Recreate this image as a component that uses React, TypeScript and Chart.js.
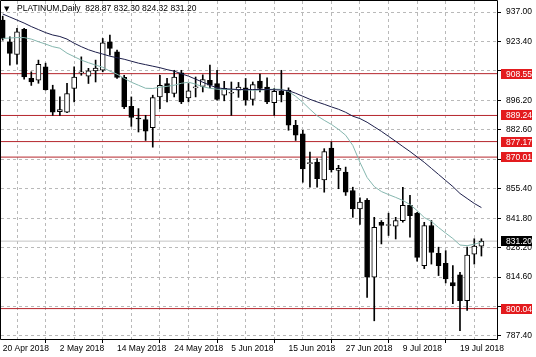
import React, { useEffect, useRef } from 'react';
import { Chart, registerables } from 'chart.js';

Chart.register(...registerables);

// ---- data ----
const tickLabels = ['20 Apr 2018', '2 May 2018', '14 May 2018', '24 May 2018', '5 Jun 2018', '15 Jun 2018', '27 Jun 2018', '9 Jul 2018', '19 Jul 2018'];

const opens = [933.3, 923.3, 917.4, 929.0, 906.4, 905.5, 911.7, 901.2, 891.0, 890.8,
  901.7, 908.9, 907.4, 909.8, 910.1, 923.3, 918.6, 906.8, 893.5, 888.0,
  887.3, 883.6, 897.8, 904.0, 899.4, 908.9, 897.3, 902.0, 902.7, 905.5,
  904.0, 898.6, 899.5, 900.9, 902.0, 896.6, 905.1, 902.4, 895.2, 900.5,
  900.9, 884.7, 880.8, 867.0, 867.7, 859.5, 874.2, 863.8, 863.1, 854.6,
  846.1, 850.0, 814.5, 839.9, 838.4, 838.1, 840.7, 847.7, 844.1, 819.9,
  838.4, 825.6, 821.0, 812.0, 815.6, 803.7, 825.2, 828.87];
const highs = [935.1, 925.6, 929.5, 929.5, 909.4, 914.8, 913.4, 903.2, 897.8, 904.1,
  911.7, 916.3, 911.0, 914.8, 924.8, 926.4, 919.4, 907.8, 897.8, 892.4,
  889.3, 898.6, 907.8, 906.4, 910.1, 910.1, 904.0, 907.0, 908.0, 912.5,
  910.1, 905.0, 904.7, 904.5, 906.3, 904.7, 908.3, 906.6, 901.7, 910.1,
  902.0, 887.0, 882.4, 872.3, 869.3, 873.9, 877.0, 866.2, 865.4, 856.1,
  851.2, 850.8, 842.2, 840.7, 844.1, 842.2, 856.1, 852.3, 844.5, 839.9,
  840.7, 828.4, 826.8, 819.9, 816.8, 828.4, 832.3, 832.30];
const lows = [924.0, 912.5, 912.9, 906.0, 903.1, 904.1, 900.9, 889.3, 889.3, 890.5,
  895.5, 907.8, 904.0, 904.7, 909.4, 917.1, 906.4, 892.4, 884.2, 881.6,
  877.7, 874.6, 892.4, 895.5, 897.8, 894.7, 895.5, 897.8, 900.1, 902.0,
  896.3, 896.0, 889.3, 897.6, 894.0, 894.0, 900.1, 894.7, 889.3, 895.5,
  882.4, 877.7, 858.4, 856.1, 856.1, 853.8, 863.1, 855.4, 852.3, 842.2,
  838.9, 805.2, 794.4, 829.9, 833.8, 832.2, 839.9, 833.0, 822.0, 818.5,
  820.6, 815.3, 811.9, 802.3, 789.8, 799.2, 820.6, 824.32];
const closes = [924.8, 917.9, 927.9, 907.0, 904.7, 912.8, 901.2, 890.8, 892.0, 899.4,
  907.0, 909.2, 909.8, 911.1, 922.8, 920.2, 906.8, 893.2, 888.3, 887.6,
  882.0, 897.5, 903.2, 899.6, 907.0, 895.5, 900.6, 902.2, 905.8, 903.2,
  896.6, 901.8, 899.8, 902.4, 896.3, 903.5, 901.7, 895.5, 900.4, 898.8,
  884.7, 880.1, 864.6, 867.2, 860.0, 872.6, 864.2, 864.8, 853.8, 846.1,
  849.2, 814.5, 837.6, 838.4, 838.6, 840.7, 847.7, 843.0, 823.7, 838.4,
  826.0, 819.9, 813.7, 810.5, 803.7, 824.8, 828.9, 831.20];

const maSlow = [936.1, 934.7, 933.3, 931.9, 930.3, 928.9, 927.5, 926.4, 925.7, 924.5,
  922.6, 921.0, 919.6, 918.5, 917.6, 916.6, 915.9, 915.2, 914.3, 913.4,
  912.7, 912.0, 911.3, 910.4, 909.7, 908.5, 907.4, 906.0, 904.6, 903.2,
  902.0, 901.6, 901.4, 901.2, 901.2, 901.2, 901.2, 901.2, 901.1, 901.0,
  900.7, 899.5, 898.1, 896.7, 895.5, 894.4, 893.2, 892.1, 890.7, 888.9,
  887.8, 886.1, 884.0, 881.9, 879.6, 877.3, 874.9, 872.6, 870.1, 867.6,
  864.8, 862.0, 859.2, 856.4, 853.2, 850.9, 848.6, 846.7];
const maFast = [924.8, 925.0, 925.2, 925.2, 924.5, 923.3, 922.2, 921.0, 920.3, 918.0,
  916.4, 914.8, 913.6, 912.5, 911.5, 909.7, 908.3, 906.4, 904.6, 903.2,
  901.8, 901.7, 902.3, 902.7, 903.2, 904.1, 904.6, 903.7, 902.5, 901.8,
  901.4, 901.2, 901.2, 901.2, 901.1, 900.9, 901.0, 901.2, 901.4, 901.3,
  900.3, 898.1, 895.3, 892.1, 889.1, 887.0, 885.1, 882.8, 880.1, 875.4,
  867.6, 860.6, 856.4, 854.1, 852.7, 851.4, 850.0, 848.1, 845.3, 842.1,
  840.3, 837.5, 834.9, 832.4, 829.4, 829.1, 829.8, 830.7];

const levels = [908.55, 889.24, 877.17, 870.01, 800.04];
const lastPrice = 831.2;
const yTicks = [937.0, 923.4, 909.8, 896.2, 882.6, 869.0, 855.4, 841.8, 828.2, 814.6, 801.0, 787.4];
const xTicks = [0, 4, 8, 12, 16, 20, 24, 28, 32, 36, 40, 44, 48, 52, 56, 60, 64, 68];
const symbolText = 'PLATINUM,Daily  828.87 832.30 824.32 831.20';

const X_MIN = -0.24;
const X_MAX = 69.18;
const Y_MIN = 786.0;
const Y_MAX = 942.1;

const FONT = "'Liberation Sans', Arial, sans-serif";
const FONT_SIZE = 8.5;

const overlayPlugin = {
  id: 'mtOverlay',
  afterDraw(chart: any) {
    const { ctx, chartArea } = chart;
    const yScale = chart.scales.y;
    ctx.save();
    // frame
    ctx.strokeStyle = '#000';
    ctx.lineWidth = 1;
    ctx.beginPath();
    ctx.moveTo(chartArea.left - 0.5, chartArea.top - 0.5);
    ctx.lineTo(chartArea.right + 0.5, chartArea.top - 0.5);
    ctx.lineTo(chartArea.right + 0.5, chartArea.bottom + 0.5);
    ctx.lineTo(chartArea.left - 0.5, chartArea.bottom + 0.5);
    ctx.closePath();
    ctx.stroke();

    ctx.font = `${FONT_SIZE}px ${FONT}`;
    ctx.textBaseline = 'middle';
    ctx.textAlign = 'left';
    const boxX = chartArea.right + 4;
    const boxW = 31;
    const boxH = 10;
    // level labels
    levels.forEach((lv) => {
      const py = Math.round(yScale.getPixelForValue(lv));
      ctx.fillStyle = '#e31b1e';
      ctx.fillRect(boxX, py - boxH / 2, boxW, boxH);
      ctx.fillStyle = '#fff';
      ctx.fillText(lv.toFixed(2), boxX + 5, py + 0.5);
    });
    // last price label
    const lp = Math.round(yScale.getPixelForValue(lastPrice));
    ctx.fillStyle = '#000';
    ctx.fillRect(boxX, lp - boxH / 2, boxW, boxH);
    ctx.fillStyle = '#fff';
    ctx.fillText(lastPrice.toFixed(2), boxX + 5, lp + 0.5);

    // symbol text
    ctx.fillStyle = '#000';
    ctx.font = `7px 'DejaVu Sans', sans-serif`;
    ctx.fillText('\u25BC', 4, 9);
    ctx.font = `${FONT_SIZE}px ${FONT}`;
    ctx.fillText(symbolText, 17, 9);
    ctx.restore();
  },
};

export default function App() {
  const canvasRef = useRef<HTMLCanvasElement | null>(null);

  useEffect(() => {
    const canvas = canvasRef.current;
    if (!canvas) return;
    const idx = opens.map((_, i) => i);
    const levelDatasets = levels.map((lv) => ({
      type: 'line' as const,
      data: [{ x: X_MIN, y: lv }, { x: X_MAX, y: lv }],
      borderColor: '#b5252c',
      borderWidth: 1,
      pointRadius: 0,
      order: 5,
    }));
    const chart = new Chart(canvas, {
      type: 'bar',
      data: {
        datasets: [
          {
            type: 'line',
            data: idx.map((i) => ({ x: i, y: maSlow[i] })),
            borderColor: '#1c1e4a',
            borderWidth: 1,
            pointRadius: 0,
            order: 0,
          },
          {
            type: 'line',
            data: idx.map((i) => ({ x: i, y: maFast[i] })),
            borderColor: '#84b6ae',
            borderWidth: 1,
            pointRadius: 0,
            order: 0,
          },
          {
            type: 'bar',
            data: idx.map((i) => ({ x: i, y: [opens[i], closes[i]] })),
            backgroundColor: idx.map((i) => (closes[i] >= opens[i] ? '#ffffff' : '#000000')),
            borderColor: '#000',
            borderWidth: 1,
            borderSkipped: false,
            barThickness: 5,
            minBarLength: 1,
            grouped: false,
            order: 1,
          } as any,
          {
            type: 'bar',
            data: idx.map((i) => ({ x: i, y: [lows[i], highs[i]] })),
            backgroundColor: '#000',
            barThickness: 1,
            grouped: false,
            order: 2,
          } as any,
          ...levelDatasets,
          {
            type: 'line',
            data: [{ x: X_MIN, y: lastPrice }, { x: X_MAX, y: lastPrice }],
            borderColor: '#c4c4c4',
            borderWidth: 1,
            pointRadius: 0,
            order: 6,
          },
        ] as any,
      },
      options: {
        animation: false,
        responsive: false,
        devicePixelRatio: 1,
        layout: { padding: { left: 1, top: 1, right: 0, bottom: 0 } },
        plugins: { legend: { display: false }, tooltip: { enabled: false } },
        scales: {
          x: {
            type: 'linear',
            position: 'bottom',
            min: X_MIN,
            max: X_MAX,
            offset: false,
            afterBuildTicks: (s: any) => {
              s.ticks = xTicks.map((v) => ({ value: v }));
            },
            afterFit: (s: any) => {
              s.height = 18;
              s.paddingLeft = 0;
              s.paddingRight = 0;
            },
            ticks: {
              autoSkip: false,
              maxRotation: 0,
              align: 'start',
              padding: 1,
              color: '#000',
              font: { family: FONT, size: FONT_SIZE },
              callback: (v: any) => (Number(v) % 8 === 0 ? tickLabels[Number(v) / 8] ?? '' : ''),
            },
            grid: {
              color: '#b9b9b9',
              tickLength: 4,
              tickColor: (c: any) => (c.tick && c.tick.value % 8 === 0 ? '#000' : 'rgba(0,0,0,0)'),
              tickBorderDash: [],
            },
            border: { display: false, dash: [3, 3] },
          },
          y: {
            type: 'linear',
            position: 'right',
            min: Y_MIN,
            max: Y_MAX,
            afterBuildTicks: (s: any) => {
              s.ticks = yTicks.map((v) => ({ value: v }));
            },
            afterFit: (s: any) => {
              s.width = 39;
              s.paddingTop = 0;
              s.paddingBottom = 0;
            },
            ticks: {
              autoSkip: false,
              padding: 5,
              color: '#000',
              font: { family: FONT, size: FONT_SIZE },
              callback: (v: any) => {
                const n = Number(v);
                return levels.some((lv) => Math.abs(lv - n) < 2) ? '' : n.toFixed(2);
              },
            },
            grid: {
              color: '#b9b9b9',
              tickLength: 4,
              tickColor: '#000',
              tickBorderDash: [],
            },
            border: { display: false, dash: [3, 3] },
          },
        },
      } as any,
      plugins: [overlayPlugin],
    });
    return () => chart.destroy();
  }, []);

  return (
    <div style={{ position: 'absolute', left: 0, top: 0, width: 536, height: 357, background: '#fff' }}>
      <canvas ref={canvasRef} width={536} height={357} style={{ display: 'block' }} />
    </div>
  );
}
